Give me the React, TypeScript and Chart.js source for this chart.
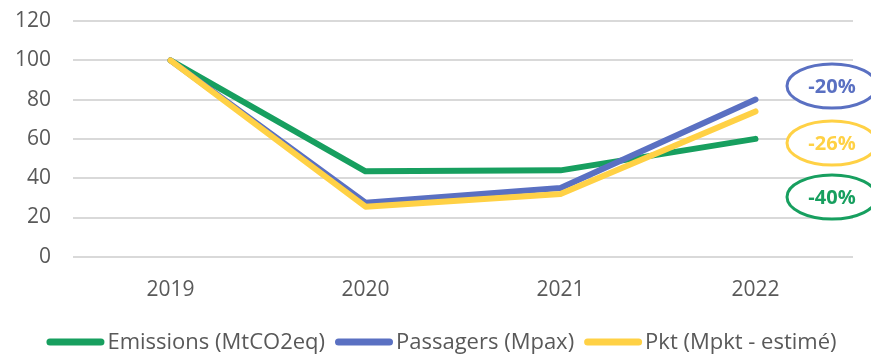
import React, { useEffect, useRef } from "react";
import { Chart, registerables } from "chart.js";

Chart.register(...registerables);

const years = ["2019", "2020", "2021", "2022"];
const emissions = [100, 43.5, 44, 60];
const passagers = [100, 27.5, 35, 80];
const pkt = [100, 25.5, 32, 74];
const yTicks = [0, 20, 40, 60, 80, 100, 120];

const GREEN = "#179F5F";
const BLUE = "#5A70C2";
const YELLOW = "#FFD145";
const TEXT = "#595959";
const FONT = "'Open Sans', sans-serif";

const pct = (arr: number[]) =>
  `${Math.round((arr[arr.length - 1] / arr[0] - 1) * 100)}%`;

// Ellipse-circled change badges on the right edge of the plot
const badges = [
  { text: pct(passagers), color: BLUE, dy: 65 },
  { text: pct(pkt), color: YELLOW, dy: 122 },
  { text: pct(emissions), color: GREEN, dy: 176 },
];

const badgePlugin = {
  id: "badges",
  afterDatasetsDraw(chart: any) {
    const { ctx, chartArea } = chart;
    ctx.save();
    badges.forEach((b) => {
      const cx = chartArea.right - 21;
      const cy = chartArea.top + b.dy;
      ctx.beginPath();
      ctx.ellipse(cx, cy, 45, 22, 0, 0, Math.PI * 2);
      ctx.fillStyle = "#ffffff";
      ctx.fill();
      ctx.lineWidth = 3;
      ctx.strokeStyle = b.color;
      ctx.stroke();
      ctx.fillStyle = b.color;
      ctx.font = `bold 20px ${FONT}`;
      ctx.textAlign = "center";
      ctx.textBaseline = "middle";
      ctx.fillText(b.text, cx, cy + 1);
    });
    ctx.restore();
  },
};

// Legend drawn along the bottom: thick line swatch followed by the series name
const legendPlugin = {
  id: "lineLegend",
  afterDraw(chart: any) {
    const { ctx } = chart;
    const swatch = 58;
    const gapText = 3;
    const gapItem = 10;
    ctx.save();
    ctx.font = `22px ${FONT}`;
    const items = chart.data.datasets.map((d: any) => ({
      label: d.label,
      color: d.borderColor,
      w: swatch + gapText + ctx.measureText(d.label).width,
    }));
    const total =
      items.reduce((s: number, it: any) => s + it.w, 0) + gapItem * (items.length - 1);
    let x = (chart.width - total) / 2 + 6;
    const y = 342;
    items.forEach((it: any) => {
      ctx.beginPath();
      ctx.lineCap = "round";
      ctx.lineWidth = 7;
      ctx.strokeStyle = it.color;
      ctx.moveTo(x + 3.5, y);
      ctx.lineTo(x + swatch - 3.5, y);
      ctx.stroke();
      ctx.fillStyle = TEXT;
      ctx.textAlign = "left";
      ctx.textBaseline = "middle";
      ctx.fillText(it.label, x + swatch + gapText, y + 1);
      x += it.w + gapItem;
    });
    ctx.restore();
  },
};

export default function App() {
  const ref = useRef<HTMLCanvasElement>(null);

  useEffect(() => {
    document.body.style.margin = "0";
    const line = (label: string, data: number[], color: string, order: number) => ({
      label,
      data,
      borderColor: color,
      backgroundColor: color,
      borderWidth: 6,
      borderCapStyle: "round" as const,
      borderJoinStyle: "round" as const,
      pointRadius: 0,
      tension: 0,
      order,
    });
    const chart = new Chart(ref.current!, {
      type: "line",
      data: {
        labels: years,
        datasets: [
          line("Emissions (MtCO2eq)", emissions, GREEN, 3),
          line("Passagers (Mpax)", passagers, BLUE, 2),
          line("Pkt (Mpkt - estimé)", pkt, YELLOW, 1),
        ],
      },
      options: {
        animation: false,
        responsive: false,
        layout: { padding: { top: 21, right: 18, left: 0, bottom: 30 } },
        scales: {
          x: {
            offset: true,
            grid: { display: false, drawTicks: false },
            border: { display: false },
            ticks: { color: TEXT, font: { family: FONT, size: 21 }, padding: 21 },
          },
          y: {
            min: 0,
            max: 120,
            afterFit: (s: any) => {
              s.width = 73;
              s.paddingTop = 0;
            },
            afterBuildTicks: (s: any) => {
              s.ticks = yTicks.map((v) => ({ value: v }));
            },
            grid: { color: "#d9d9d9", lineWidth: 2, drawTicks: false },
            border: { display: false },
            ticks: { color: TEXT, font: { family: FONT, size: 21 }, padding: 22 },
          },
        },
        plugins: {
          legend: { display: false },
          tooltip: { enabled: false },
        },
      },
      plugins: [badgePlugin, legendPlugin],
    });
    return () => chart.destroy();
  }, []);

  return (
    <div style={{ width: 871, height: 354 }}>
      <canvas ref={ref} width={871} height={354} />
    </div>
  );
}
